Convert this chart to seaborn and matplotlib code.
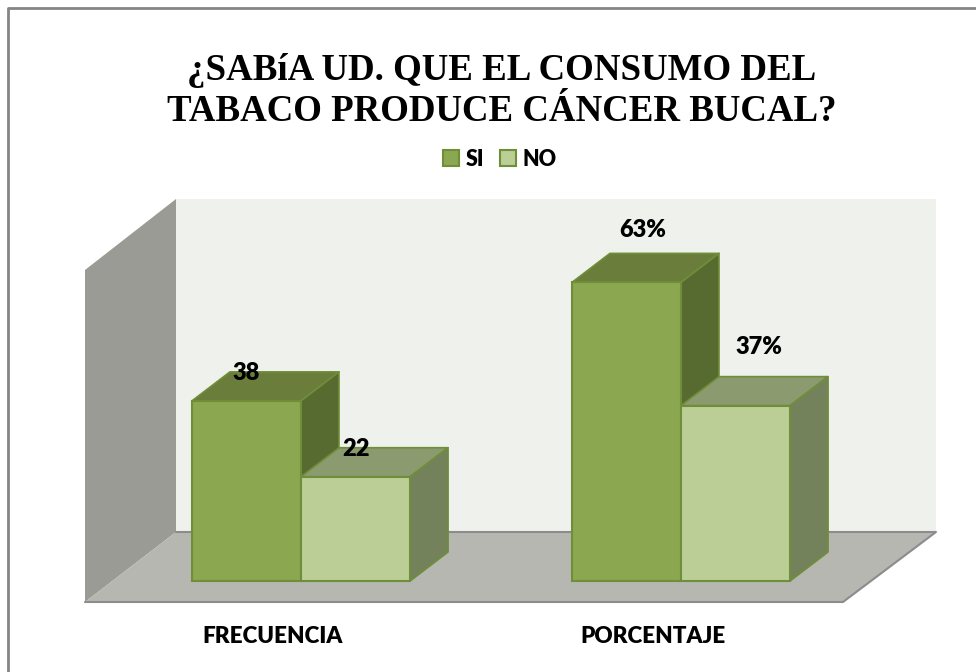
import numpy as np
import pandas as pd
import matplotlib
matplotlib.use('Agg')
import matplotlib.pyplot as plt
from matplotlib.patches import Polygon
import seaborn as sns

categories = ['FRECUENCIA', 'PORCENTAJE']
series = ['SI', 'NO']
si_values = [38, 63]
no_values = [22, 37]
si_labels = ['38', '63%']
no_labels = ['22', '37%']
title = '¿SABíA UD. QUE EL CONSUMO DEL\nTABACO PRODUCE CÁNCER BUCAL?'

FRONT = {'SI': '#8BA850', 'NO': '#BBCE96'}
TOP = {'SI': '#6B7D3B', 'NO': '#8C9B6F'}
SIDE = {'SI': '#576A30', 'NO': '#74825C'}
EDGE = '#6F8E3A'

W, H = 976, 672
PX_X = 380      # pixels per category
PX_Y = 4.74     # pixels per value unit
DEPTH = (38, 29)
BASE_Y = 581
AXIS_Y = 602
FIRST_X = 301

sns.set_theme(style='white')
plt.rcParams['font.family'] = ['Lato', 'DejaVu Sans']

fig = plt.figure(figsize=(W / 100, H / 100), dpi=100)

# walls and floor, in picture pixels
bg = fig.add_axes([0, 0, 1, 1])
bg.set_xlim(0, W)
bg.set_ylim(H, 0)
bg.set_axis_off()
bg.add_patch(Polygon([(176, 199), (936, 199), (936, 532), (176, 532)], fc='#EFF2EC', ec='none'))
bg.add_patch(Polygon([(85, 270), (176, 199), (176, 532), (85, 602)], fc='#999B94', ec='none'))
bg.add_patch(Polygon([(85, 602), (176, 532), (936, 532), (843, 602)], fc='#B5B7B0', ec='none'))
bg.plot([176, 936, 843, 85], [532, 532, 602, 602], color='#8C8C8C', lw=1.5)
bg.plot([8, 8, W], [H, 8, 8], color='#858585', lw=2, solid_capstyle='butt')

df = pd.DataFrame({
    'categoria': categories * 2,
    'serie': [series[0]] * 2 + [series[1]] * 2,
    'valor': si_values + no_values,
})

ax = fig.add_axes([0, 1 - AXIS_Y / H, 1, AXIS_Y / H])
ax.patch.set_alpha(0)
sns.barplot(data=df, x='categoria', y='valor', hue='serie', palette=FRONT,
            width=0.574, gap=0, dodge=True, saturation=1, errorbar=None,
            edgecolor=EDGE, linewidth=1.5, ax=ax)
ax.set_xlim(-FIRST_X / PX_X, (W - FIRST_X) / PX_X)
ax.set_ylim(-(AXIS_Y - BASE_Y) / PX_Y, BASE_Y / PX_Y)
ax.set_yticks([])
ax.set_xlabel('')
ax.set_ylabel('')
sns.despine(ax=ax, left=True, bottom=True)

# category labels sit left of the group centre
ax.set_xticks(np.arange(len(categories)) - 28 / PX_X)
ax.set_xticklabels(categories, fontsize=16.2, fontweight=800, color='black')
ax.tick_params(axis='x', length=0, pad=17)

# pseudo 3D faces built from the bars seaborn drew
dx, dy = DEPTH[0] / PX_X, DEPTH[1] / PX_Y
label_offsets = {'SI': [(0, 28), (16, 52)], 'NO': [(0, 28), (23, 59)]}
texts = {'SI': si_labels, 'NO': no_labels}
for cat_i in range(len(categories)):
    for ser_i, (name, cont) in enumerate(zip(series, ax.containers)):
        bar = cont[cat_i]
        x0, x1 = bar.get_x(), bar.get_x() + bar.get_width()
        y0, y1 = 0, bar.get_height()
        z = 3 + cat_i * 4 + ser_i * 2
        ax.add_patch(Polygon([(x0, y1), (x0 + dx, y1 + dy), (x1 + dx, y1 + dy), (x1, y1)],
                             fc=TOP[name], ec=EDGE, lw=1.2, joinstyle='round', zorder=z))
        ax.add_patch(Polygon([(x1, y0), (x1 + dx, y0 + dy), (x1 + dx, y1 + dy), (x1, y1)],
                             fc=SIDE[name], ec=EDGE, lw=1.2, joinstyle='round', zorder=z))
        bar.set_zorder(z + 1)
        ax.annotate(texts[name][cat_i], ((x0 + x1) / 2, y1),
                    xytext=(label_offsets[name][cat_i][0] * 0.72, label_offsets[name][cat_i][1] * 0.72),
                    textcoords='offset points', ha='center', va='center',
                    fontsize=17, fontweight=800, color='black', zorder=20)

sns.move_legend(ax, 'center', bbox_to_anchor=(500 / W, 1 - 159 / AXIS_Y), ncol=2,
                frameon=False, title=None, handlelength=0.72, handleheight=0.72,
                handletextpad=0.33, columnspacing=0.75, labelcolor='black',
                prop={'weight': 800, 'size': 15.5, 'family': 'Lato'})

fig.text(502 / W, 1 - 91 / H, title, ha='center', va='center', fontsize=26.6,
         fontweight='bold', family='Liberation Serif', color='black', linespacing=1.22)

fig.savefig('out.png', dpi=100)
plt.close(fig)
